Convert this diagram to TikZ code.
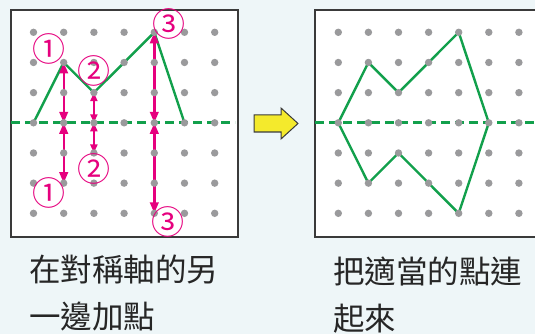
\documentclass[tikz,border=0pt]{standalone}
\usepackage{fontspec}
\newfontfamily\cjk{Noto Sans CJK TC}
\usetikzlibrary{arrows.meta}
\definecolor{bg}{HTML}{EEF6F8}
\definecolor{dotgray}{HTML}{9A9A9C}
\definecolor{grn}{HTML}{12A04C}
\definecolor{mag}{HTML}{E6007E}
\definecolor{ylw}{HTML}{F4EA2C}
\definecolor{frame}{HTML}{3A3A3A}
\tikzset{
  panel/.style={draw=frame, line width=1.4pt, fill=white},
  griddot/.style={fill=dotgray},
  shape line/.style={draw=grn, line width=2.4pt, line join=miter},
  axisline/.style={draw=grn, line width=2.8pt, dash pattern=on 9pt off 5pt},
  marr/.style={draw=mag, line width=2.4pt, {Triangle[width=8.5pt,length=11pt]}-{Triangle[width=8.5pt,length=11pt]}},
  marrs/.style={draw=mag, line width=2pt, {Triangle[width=7pt,length=8.5pt]}-{Triangle[width=7pt,length=8.5pt]}},
  numlabel/.style={text=mag, font=\cjk\fontsize{33}{33}\selectfont, inner sep=0pt},
  caption/.style={font=\cjk\fontsize{31.5}{31.5}\selectfont, text=black!85, inner sep=0pt, anchor=base west},
  bigarrow/.style={fill=ylw, draw=frame, line width=1pt, line join=miter}
}
\begin{document}
\begin{tikzpicture}[x=1pt,y=-1pt]
\useasboundingbox (0,0) rectangle (535,334);
\fill[bg] (0,0) rectangle (535,334);
\clip (0,0) rectangle (535,334);

% panels
\draw[panel] (11,10) rectangle (238,237);
\draw[panel] (315,10) rectangle (542,237);

% grid coordinates
\foreach \i in {0,...,6}{
  \foreach \j in {0,...,6}{
    \coordinate (L\i\j) at ({33.5+30.2*\i},{32.3+30.17*\j});
    \coordinate (R\i\j) at ({338.3+30.1*\i},{32.3+30.17*\j});
  }
}

% axes
\coordinate (axL1) at (11,122.8);
\coordinate (axL2) at (235,122.8);
\coordinate (axR1) at (315,122.8);
\coordinate (axR2) at (540,122.8);

% left shape
\draw[shape line] (L03) -- (L11) -- (L22) -- (L40) -- (L53);
% right shape
\draw[shape line] (R03) -- (R11) -- (R22) -- (R40) -- (R53) -- (R46) -- (R24) -- (R15) -- cycle;

% magenta arrows
\draw[marr] (L11) -- (L13);
\draw[marr] (L13) -- (L15);
\draw[marrs] (L22) -- (L23);
\draw[marrs] (L23) -- (L24);
\draw[marr] (L40) -- (L43);
\draw[marr] (L43) -- (L46);

\draw[axisline] (axL1) -- (axL2);
\draw[axisline] (axR1) -- (axR2);

% dots
\foreach \i in {0,...,6}{
  \foreach \j in {0,...,6}{
    \fill[griddot] (L\i\j) circle (3.7pt);
    \fill[griddot] (R\i\j) circle (3.7pt);
  }
}

% circled numbers
\node[numlabel] (n1a) at (49.3,49.3) {①};
\node[numlabel] (n2a) at (94.3,71) {②};
\node[numlabel] (n3a) at (169,24) {③};
\node[numlabel] (n1b) at (49.3,193.3) {①};
\node[numlabel] (n2b) at (94.3,169.3) {②};
\node[numlabel] (n3b) at (168,221.7) {③};

% yellow arrow
\draw[bigarrow] (254,115) -- (281,115) -- (281,108) -- (298,123.5) -- (281,139) -- (281,132) -- (254,132) -- cycle;

% captions
\node[caption] (c1) at (29,281) {在對稱軸的另};
\node[caption] (c2) at (29,328) {一邊加點};
\node[caption] (c3) at (333,283) {把適當的點連};
\node[caption] (c4) at (333,330) {起來};
\end{tikzpicture}
\end{document}
